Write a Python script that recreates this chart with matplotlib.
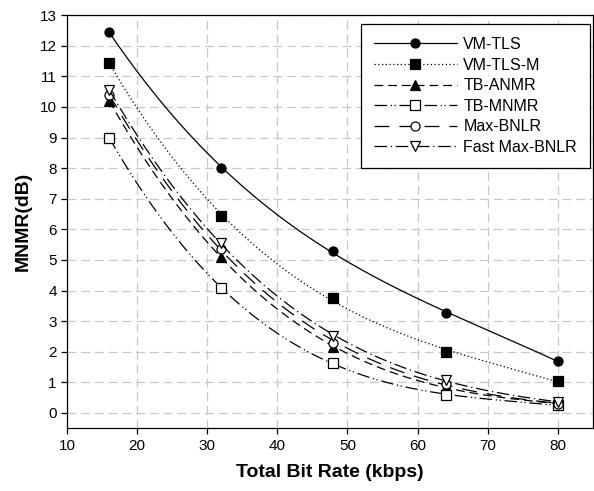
import numpy as np
import matplotlib
matplotlib.use("Agg")
import matplotlib.pyplot as plt

plt.rcParams['font.family'] = ['Liberation Sans', 'DejaVu Sans']

# total bit rate (kbps)
rates = [16, 32, 48, 64, 80]

vm_tls = [12.45, 8.0, 5.28, 3.27, 1.69]
vm_tls_m = [11.45, 6.42, 3.76, 2.0, 1.03]
tb_anmr = [10.2, 5.1, 2.14, 0.85, 0.3]
tb_mnmr = [9.0, 4.07, 1.63, 0.59, 0.25]
max_bnlr = [10.4, 5.35, 2.3, 0.95, 0.3]
fast_max_bnlr = [10.55, 5.55, 2.5, 1.08, 0.35]

labels = ['VM-TLS', 'VM-TLS-M', 'TB-ANMR', 'TB-MNMR', 'Max-BNLR', 'Fast Max-BNLR']


def smooth(x, y, n=200):
    # smooth curve through the measured points, like the original plot
    c = np.polyfit(x, y, 3)
    xs = np.linspace(x[0], x[-1], n)
    return xs, np.polyval(c, xs)


series = [vm_tls, vm_tls_m, tb_anmr, tb_mnmr, max_bnlr, fast_max_bnlr]
styles = [
    dict(ls='-', marker='o', mfc='black'),
    dict(ls=(0, (1, 2)), marker='s', mfc='black'),
    dict(ls=(0, (7, 4)), marker='^', mfc='black'),
    dict(ls=(0, (10, 3, 1, 2, 1, 3)), marker='s', mfc='white'),
    dict(ls=(0, (12, 8)), marker='o', mfc='white'),
    dict(ls=(0, (10, 3, 1, 3)), marker='v', mfc='white'),
]

fig = plt.figure(figsize=(5.94, 4.91), dpi=100)
ax = fig.add_axes([0.113, 0.128, 0.885, 0.841])

for y, st, lab in zip(series, styles, labels):
    xs, ys = smooth(np.array(rates, float), np.array(y, float))
    ax.plot(xs, ys, color='black', lw=0.9, ls=st['ls'])
    ax.plot(rates, y, ls='none', marker=st['marker'], ms=6.5,
            mfc=st['mfc'], mec='black', mew=0.9)
    # legend proxy
    ax.plot([], [], color='black', lw=0.9, ls=st['ls'], marker=st['marker'],
            ms=6.5, mfc=st['mfc'], mec='black', mew=0.9, label=lab)

ax.set_xlim(10, 85)
ax.set_ylim(-0.5, 13)
ax.set_xticks(np.arange(10, 81, 10))
ax.set_yticks(np.arange(0, 14, 1))
ax.grid(True, color='#c8c8c8', ls=(0, (7, 4)), lw=0.9)
ax.set_axisbelow(True)
ax.tick_params(direction='out', length=4, labelsize=11, width=0.9)
for s in ax.spines.values():
    s.set_linewidth(0.9)

ax.set_xlabel('Total Bit Rate (kbps)', fontsize=14, fontweight='bold', labelpad=8)
ax.set_ylabel('MNMR(dB)', fontsize=14, fontweight='bold', labelpad=6)

leg = ax.legend(loc='upper right', bbox_to_anchor=(0.994, 0.978), fontsize=11.5,
                handlelength=5.2, fancybox=False, edgecolor='black',
                framealpha=1, borderpad=0.8, labelspacing=0.35,
                handletextpad=0.4, borderaxespad=0)
leg.get_frame().set_linewidth(0.9)

fig.savefig('out.png', dpi=100)
